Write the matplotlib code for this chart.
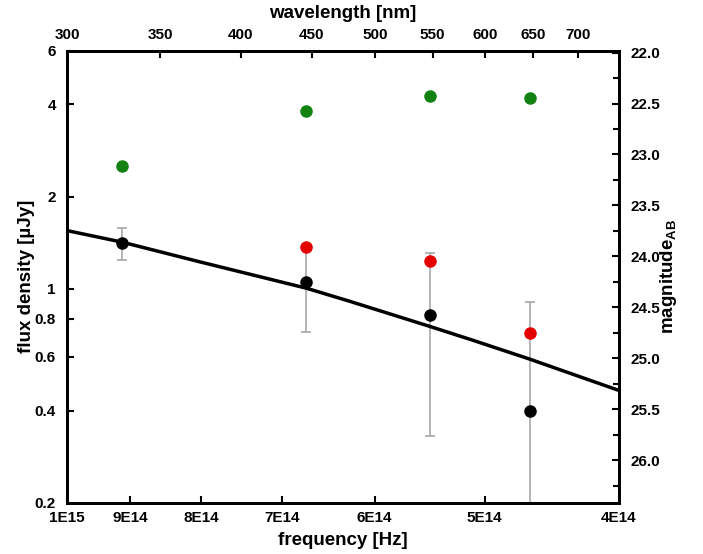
import numpy as np
import matplotlib
matplotlib.use("Agg")
import matplotlib.pyplot as plt
from matplotlib.ticker import FixedLocator, NullLocator, NullFormatter

plt.rcParams['font.family'] = ['Liberation Sans', 'DejaVu Sans']
plt.rcParams['font.weight'] = 'bold'

# data (frequency in Hz, flux in uJy)
freq = [9.12e14, 6.72e14, 5.47e14, 4.64e14]
flux_black = [1.41, 1.05, 0.82, 0.40]
err_black = [0.17, 0.325, 0.49, 0.505]
flux_red = [1.37, 1.235, 0.72]
freq_red = [6.72e14, 5.47e14, 4.64e14]
flux_green = [2.52, 3.82, 4.27, 4.19]

# model curve
model_freq = [1.0e15, 9.12e14, 8.02e14, 6.72e14, 6.25e14, 5.48e14, 5.10e14, 4.64e14, 4.0e14]
model_flux = [1.55, 1.42, 1.225, 1.005, 0.91, 0.755, 0.68, 0.59, 0.466]

wl_ticks = [300, 350, 400, 450, 500, 550, 600, 650, 700]
freq_ticks = [1e15, 9e14, 8e14, 7e14, 6e14, 5e14, 4e14]
freq_labels = ['1E15', '9E14', '8E14', '7E14', '6E14', '5E14', '4E14']
flux_ticks = [0.2, 0.4, 0.6, 0.8, 1, 2, 4, 6]
flux_labels = ['0.2', '0.4', '0.6', '0.8', '1', '2', '4', '6']
mag_ticks = [22.0, 22.5, 23.0, 23.5, 24.0, 24.5, 25.0, 25.5, 26.0]

fig = plt.figure(figsize=(7.03, 5.54), dpi=100)
ax = fig.add_axes([0.0953, 0.0921, 0.7852, 0.8167])

ax.set_xscale('log')
ax.set_yscale('log')
ax.set_xlim(1e15, 4e14)
ax.set_ylim(0.2, 6)

ax.plot(model_freq, model_flux, color='black', lw=2.5, zorder=3)
ax.errorbar(freq, flux_black, yerr=err_black, fmt='none', ecolor='#a8a8a8',
            elinewidth=1.2, capsize=3.5, capthick=1.2, zorder=2)
ax.plot(freq, flux_black, 'o', color='black', ms=8, zorder=4)
ax.plot(freq_red, flux_red, 'o', color='#e50000', ms=8, zorder=4)
ax.plot(freq, flux_green, 'o', color='#128212', ms=8, zorder=4)

ax.xaxis.set_major_locator(FixedLocator(freq_ticks))
ax.set_xticklabels(freq_labels)
ax.xaxis.set_minor_locator(NullLocator())
ax.xaxis.set_minor_formatter(NullFormatter())
ax.yaxis.set_major_locator(FixedLocator(flux_ticks))
ax.set_yticklabels(flux_labels)
ax.yaxis.set_minor_locator(NullLocator())
ax.yaxis.set_minor_formatter(NullFormatter())

ax.set_xlabel('frequency [Hz]', fontsize=13.5, fontweight='bold', labelpad=5)
ax.set_ylabel('flux density [µJy]', fontsize=13.5, fontweight='bold', labelpad=0)

# top axis: wavelength
axt = ax.twiny()
axt.set_xscale('log')
axt.set_xlim(ax.get_xlim())
axt.xaxis.set_major_locator(FixedLocator([2.998e17 / w for w in wl_ticks]))
axt.set_xticklabels([str(w) for w in wl_ticks])
axt.xaxis.set_minor_locator(NullLocator())
axt.xaxis.set_minor_formatter(NullFormatter())
axt.set_xlabel('wavelength [nm]', fontsize=13.5, fontweight='bold', labelpad=7)

# right axis: AB magnitude
axr = ax.twinx()
axr.set_ylim(26.42, 21.98)
axr.yaxis.set_major_locator(FixedLocator(mag_ticks))
axr.set_yticklabels(['%.1f' % m for m in mag_ticks])
axr.yaxis.set_minor_locator(FixedLocator(np.arange(22.25, 26.5, 0.5)))
axr.set_ylabel('magnitude$_{\\mathregular{AB}}$', fontsize=13.5, fontweight='bold', labelpad=-1)

for a in (ax, axt, axr):
    for s in a.spines.values():
        s.set_linewidth(2)
    a.tick_params(which='both', direction='in', width=1.5, labelsize=11)
    a.tick_params(which='major', length=5)
    a.tick_params(which='minor', length=4)
ax.tick_params(axis='y', pad=8)
ax.tick_params(axis='x', pad=6)
axt.tick_params(axis='x', pad=6)
axr.tick_params(axis='y', pad=8)
for lab in ax.get_xticklabels() + ax.get_yticklabels() + axt.get_xticklabels() + axr.get_yticklabels():
    lab.set_fontweight('bold')

fig.savefig('out.png', dpi=100)
